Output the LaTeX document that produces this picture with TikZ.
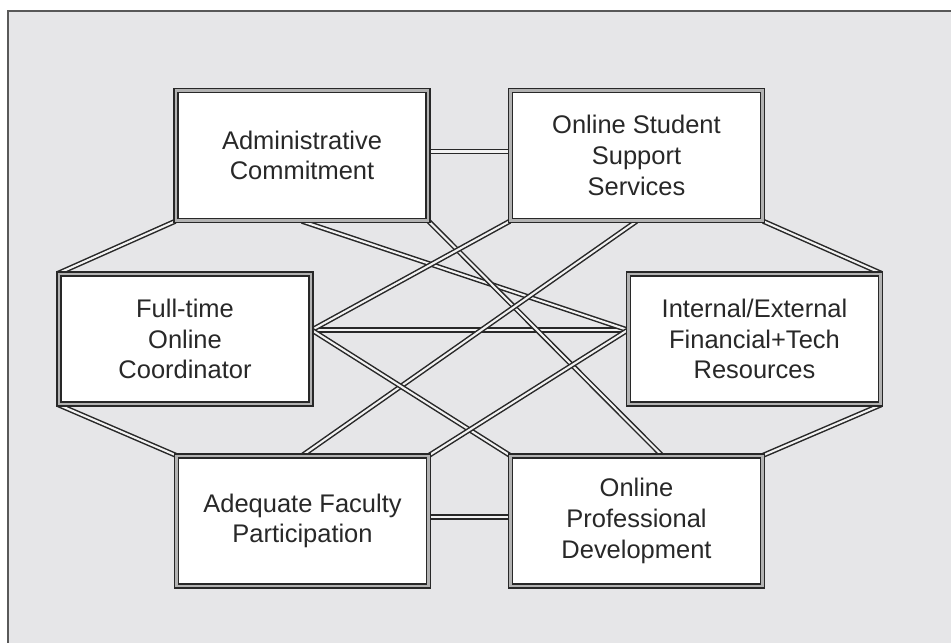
\documentclass[tikz,border=0pt]{standalone}
\usepackage{fontspec}
\setmainfont{Liberation Sans}
\usetikzlibrary{calc}
\pgfdeclarelayer{back}
\pgfsetlayers{back,main}
\definecolor{panel}{RGB}{230,230,232}
\definecolor{ink}{RGB}{40,40,40}
\begin{document}
\begin{tikzpicture}[x=0.02cm, y=-0.02cm]
\tikzstyle{every node}+=[font=\fontsize{14.5}{17.5}\selectfont, text=ink]
\tikzstyle{factor}=[draw=ink, line width=0.85pt, double=black!30, double distance=1.2pt, fill=white, minimum width=5.04cm, minimum height=2.6cm, align=center, inner sep=0pt]
\tikzstyle{link}=[draw=ink, line width=0.85pt, double=black!5, double distance=1.2pt]
\useasboundingbox (0,0) rectangle (951,643);
\node [factor] (admin) at (302,155.5) {Administrative\\Commitment};
\node [factor] (oss) at (636.5,155.5) {Online Student\\Support\\Services};
\node [factor] (ftc) at (185,339) {Full-time\\Online\\Coordinator};
\node [factor] (ier) at (754.5,339) {Internal/External\\Financial+Tech\\Resources};
\node [factor] (afp) at (302.5,521) {Adequate Faculty\\Participation};
\node [factor] (opd) at (636.5,521) {Online\\Professional\\Development};
\begin{pgfonlayer}{back}
\begin{scope}
\clip (0,0) rectangle (951,643);
\draw [draw=black!65, line width=0.9pt, fill=panel] (8,11) rectangle (990,690);
\end{scope}
\coordinate (adminR) at ($(admin.east)+(0,-4)$);
\coordinate (afpR) at ($(afp.east)+(0,-4)$);
\coordinate (ftcR) at ($(ftc.east)+(0,-9)$);
\coordinate (ierL) at ($(ier.west)+(0,-9)$);
\coordinate (opdT) at ($(opd.north west)!0.6!(opd.north east)$);
\draw [link] (adminR) -- (adminR -| oss.west);
\draw [link] (afpR) -- (afpR -| opd.west);
\draw [link] (ftcR) -- (ierL);
\draw [link] (admin.south west) -- (ftc.north west);
\draw [link] (oss.south east) -- (ier.north east);
\draw [link] (ftc.south west) -- (afp.north west);
\draw [link] (ier.south east) -- (opd.north east);
\draw [link] (admin.south) -- (ierL);
\draw [link] (admin.south east) -- (opdT);
\draw [link] (oss.south west) -- (ftcR);
\draw [link] (oss.south) -- (afp.north);
\draw [link] (ftcR) -- (opd.north west);
\draw [link] (ierL) -- (afp.north east);
\end{pgfonlayer}
\end{tikzpicture}
\end{document}
